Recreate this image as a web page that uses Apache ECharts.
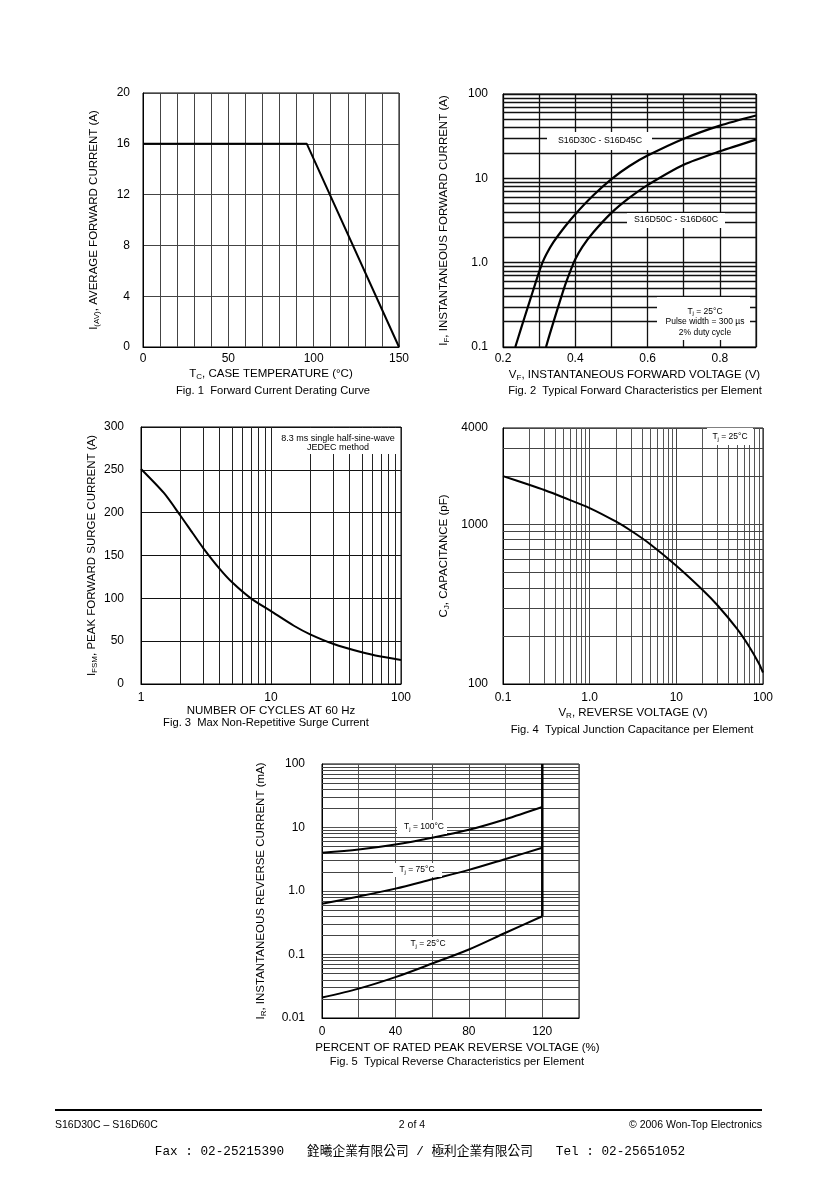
<!DOCTYPE html>
<html><head><meta charset="utf-8">
<script src="https://cdn.jsdelivr.net/npm/echarts@6/dist/echarts.min.js"></script>
<style>html,body{margin:0;padding:0;background:#fff}#c{width:840px;height:1189px}</style>
</head><body><div id="c"></div>
<script>
// ---------- DATA ----------
// Fig 1 Forward Current Derating Curve
const fig1Temp = [0, 96, 150];
const fig1Current = [16, 16, 0];
// Fig 2 Typical Forward Characteristics
const fig2VoltA = [0.234, 0.25, 0.27, 0.29, 0.30, 0.31, 0.32, 0.34, 0.37, 0.40, 0.45, 0.50, 0.55, 0.60, 0.70, 0.80, 0.90];
const fig2CurrA = [0.1, 0.166, 0.31, 0.575, 0.776, 1.02, 1.26, 1.76, 2.63, 3.76, 6.3, 9.8, 14, 18.6, 29.5, 42.2, 55.6];
const fig2VoltB = [0.319, 0.33, 0.35, 0.37, 0.39, 0.40, 0.42, 0.45, 0.50, 0.55, 0.60, 0.70, 0.80, 0.90];
const fig2CurrB = [0.1, 0.145, 0.275, 0.513, 0.871, 1.10, 1.55, 2.29, 3.89, 5.89, 8.32, 14.5, 20.9, 28.8];
// Fig 3 Max Non-Repetitive Surge Current
const fig3Cycles = [1, 1.5, 2, 2.5, 3, 4, 5, 7, 10, 15, 20, 30, 50, 70, 100];
const fig3Surge = [251, 223, 197, 176, 159, 135, 119, 100, 85, 68, 58, 47, 37, 32, 28];
// Fig 4 Typical Junction Capacitance
const fig4Volt = [0.1, 0.2, 0.3, 0.5, 1, 2, 3, 5, 10, 20, 30, 50, 70, 90, 100];
const fig4Cap = [2000, 1766, 1637, 1470, 1262, 1040, 910, 750, 550, 389, 310, 222, 170, 134, 118];
// Fig 5 Typical Reverse Characteristics
const fig5Percent = [0, 20, 40, 60, 80, 100, 120];
const fig5Tj100 = [4.0, 4.5, 5.4, 6.9, 9.2, 13.5, 21];
const fig5Tj75 = [0.63, 0.82, 1.09, 1.53, 2.15, 3.2, 4.8];
const fig5Tj25 = [0.021, 0.029, 0.044, 0.072, 0.12, 0.22, 0.40];
const fig5LimitX = [120, 120];
const fig5LimitY = [0.40, 100];

// Grid (minor) line values on log axes
const fig2YMinor = [0.2,0.3,0.4,0.5,0.6,0.7,0.8,0.9,2,3,4,5,6,7,8,9,20,30,40,50,60,70,80,90];
const fig3XMinor = [2,3,4,5,6,7,8,9,20,30,40,50,60,70,80,90];
const fig4XMinor = [0.2,0.3,0.4,0.5,0.6,0.7,0.8,0.9,2,3,4,5,6,7,8,9,20,30,40,50,60,70,80,90];
const fig4YMinor = [200,300,400,500,600,700,800,900,2000,3000];
const fig5YMinor = [0.02,0.03,0.04,0.05,0.06,0.07,0.08,0.09,0.2,0.3,0.4,0.5,0.6,0.7,0.8,0.9,2,3,4,5,6,7,8,9,20,30,40,50,60,70,80,90];

// ---------- HELPERS ----------
const FONT = '"Liberation Sans", Arial, sans-serif';
const pairs = (xs, ys) => xs.map((x, i) => [x, ys[i]]);
function logLabel(v) {
  const s = +(+v).toPrecision(4);
  if (Math.abs(s - 1) < 1e-9) return '1.0';
  return String(s);
}
function nameStyle(pad) {
  return {
    color: '#000', fontFamily: FONT, fontSize: 11.5, padding: pad || 0,
    rich: {
      n: {fontSize: 11.5, fontFamily: FONT, color: '#000'},
      s: {fontSize: 8, fontFamily: FONT, color: '#000', padding: [6, 0, 0, 0]}
    }
  };
}
function axis(o) {
  const base = {
    gridIndex: o.grid, type: o.type || 'value', min: o.min, max: o.max,
    name: o.name, nameLocation: 'middle', nameGap: o.nameGap, nameTextStyle: nameStyle(o.namePad),
    axisLine: {show: true, onZero: false, lineStyle: {color: '#000', width: 1}},
    axisTick: {show: false},
    splitLine: {show: true, lineStyle: {color: o.gridColor || '#333', width: o.gridWidth || 1, type: 'solid'}},
    axisLabel: {color: '#000', fontFamily: FONT, fontSize: 12, margin: o.margin, formatter: o.formatter,
      showMinLabel: true, showMaxLabel: true, hideOverlap: false}
  };
  if (o.interval !== undefined) base.interval = o.interval;
  if (o.type === 'log') base.logBase = 10;
  return base;
}
function gridLines(idx, key, values, color, width) {
  return {
    type: 'line', xAxisIndex: idx, yAxisIndex: idx, data: [], silent: true, z: 1,
    markLine: {
      silent: true, symbol: ['none', 'none'], animation: false,
      label: {show: false}, emphasis: {disabled: true},
      lineStyle: {color: color, width: width, type: 'solid'},
      data: values.map(v => ({[key]: v}))
    }
  };
}
function curve(idx, data, width, smooth) {
  return {
    type: 'line', xAxisIndex: idx, yAxisIndex: idx, data: data, z: 5,
    showSymbol: false, symbol: 'none', smooth: smooth,
    lineStyle: {color: '#000', width: width || 2}, silent: true
  };
}

// ---------- OPTION ----------
const gridBox = (l, t, w, h) => ({left: l, top: t, width: w, height: h, show: true,
  borderColor: '#000', borderWidth: 1, backgroundColor: '#fff', containLabel: false, outerBoundsMode: 'none'});

const option = {
  animation: false,
  backgroundColor: '#fff',
  grid: [
    gridBox(143, 93, 256, 254),
    gridBox(503, 94, 253, 253),
    gridBox(141, 427, 260, 257),
    gridBox(503, 428, 260, 256),
    gridBox(322, 764, 257, 254)
  ],
  xAxis: [
    axis({grid: 0, min: 0, max: 150, interval: 10, margin: 6, nameGap: 20, gridColor: '#444',
      name: '{n|T}{s|C}{n|, CASE TEMPERATURE (°C)}',
      formatter: v => (v % 50 === 0 ? String(v) : '')}),
    axis({grid: 1, min: 0.2, max: 0.9, interval: 0.1, margin: 6, nameGap: 21, gridColor: '#111', gridWidth: 1.3,
      name: '{n|V}{s|F}{n|, INSTANTANEOUS FORWARD VOLTAGE (V)}', namePad: [0, 0, 0, 10],
      formatter: v => (Math.round(v * 10) % 2 === 0 && v < 0.85 ? (+v).toFixed(1) : '')}),
    axis({grid: 2, type: 'log', min: 1, max: 100, margin: 8, nameGap: 20, gridColor: '#222',
      name: 'NUMBER OF CYCLES AT 60 Hz', formatter: v => String(Math.round(v))}),
    axis({grid: 3, type: 'log', min: 0.1, max: 100, margin: 8, nameGap: 22, gridColor: '#444',
      name: '{n|V}{s|R}{n|, REVERSE VOLTAGE (V)}', formatter: logLabel}),
    axis({grid: 4, min: 0, max: 140, interval: 20, margin: 8, nameGap: 24, gridColor: '#555',
      name: 'PERCENT OF RATED PEAK REVERSE VOLTAGE (%)', namePad: [0, 0, 0, 14],
      formatter: v => (v % 40 === 0 && v < 140 ? String(v) : '')})
  ],
  yAxis: [
    axis({grid: 0, min: 0, max: 20, interval: 4, margin: 13, nameGap: 42, gridColor: '#444',
      name: '{n|I}{s|(AV)}{n|, AVERAGE FORWARD CURRENT (A)}'}),
    axis({grid: 1, type: 'log', min: 0.1, max: 100, margin: 15, nameGap: 52, gridColor: '#111', gridWidth: 1.3,
      name: '{n|I}{s|F}{n|, INSTANTANEOUS FORWARD CURRENT (A)}', formatter: logLabel}),
    axis({grid: 2, min: 0, max: 300, interval: 50, margin: 17, nameGap: 42, gridColor: '#111',
      name: '{n|I}{s|FSM}{n|, PEAK FORWARD SURGE CURRENT (A)}'}),
    axis({grid: 3, type: 'log', min: 100, max: 4000, margin: 15, nameGap: 52, gridColor: '#444',
      name: '{n|C}{s|J}{n|, CAPACITANCE (pF)}', formatter: v => String(Math.round(v))}),
    axis({grid: 4, type: 'log', min: 0.01, max: 100, margin: 17, nameGap: 54, gridColor: '#555',
      name: '{n|I}{s|R}{n|, INSTANTANEOUS REVERSE CURRENT (mA)}', formatter: logLabel})
  ],
  series: [
    gridLines(1, 'yAxis', fig2YMinor, '#111', 1.3),
    gridLines(2, 'xAxis', fig3XMinor, '#222', 1),
    gridLines(3, 'xAxis', fig4XMinor, '#555', 1),
    gridLines(3, 'yAxis', fig4YMinor, '#444', 1),
    gridLines(4, 'yAxis', fig5YMinor, '#444', 1),
    curve(0, pairs(fig1Temp, fig1Current), 2, false),
    curve(1, pairs(fig2VoltA, fig2CurrA), 2.2, 0.25),
    curve(1, pairs(fig2VoltB, fig2CurrB), 2.2, 0.25),
    curve(2, pairs(fig3Cycles, fig3Surge), 2, 0.25),
    curve(3, pairs(fig4Volt, fig4Cap), 2, 0.25),
    curve(4, pairs(fig5Percent, fig5Tj100), 2, 0.3),
    curve(4, pairs(fig5Percent, fig5Tj75), 2, 0.3),
    curve(4, pairs(fig5Percent, fig5Tj25), 2, 0.3),
    curve(4, pairs(fig5LimitX, fig5LimitY), 2.5, false)
  ],
  graphic: []
};

// ---------- TEXT / ANNOTATIONS ----------
const G = option.graphic;
function box(x, y, w, h) {
  G.push({type: 'rect', z: 90, silent: true, shape: {x: x, y: y, width: w, height: h}, style: {fill: '#fff'}});
}
function text(x, y, str, size, opt) {
  G.push({type: 'text', z: 95, silent: true, x: x, y: y,
    style: Object.assign({text: str, fontFamily: FONT, fontSize: size, fill: '#000',
      align: 'center', verticalAlign: 'middle',
      rich: {s: {fontSize: size * 0.7, fontFamily: FONT, fill: '#000', padding: [4, 0, 0, 0]}}}, opt || {})});
}
// figure annotations
box(547, 132, 105, 18); text(600, 141, 'S16D30C - S16D45C', 8.8);
box(627, 213, 98, 15); text(676, 220, 'S16D50C - S16D60C', 8.8);
box(657, 297, 93, 43); text(705, 322, 'T{s|j} = 25°C\nPulse width = 300 µs\n2% duty cycle', 8.5, {lineHeight: 10.5});
box(278, 428, 121, 26); text(338, 443, '8.3 ms single half-sine-wave\nJEDEC method', 9, {lineHeight: 9.5});
box(707, 428, 46, 17); text(730, 437, 'T{s|j} = 25°C', 8.5);
box(397, 820, 50, 14); text(424, 827, 'T{s|j} = 100°C', 8.5);
box(393, 863, 49, 14); text(417, 870, 'T{s|j} = 75°C', 8.5);
box(405, 937, 47, 14); text(428, 944, 'T{s|j} = 25°C', 8.5);
// captions
text(273, 391, 'Fig. 1  Forward Current Derating Curve', 11.2);
text(635, 391, 'Fig. 2  Typical Forward Characteristics per Element', 11.2);
text(266, 723, 'Fig. 3  Max Non-Repetitive Surge Current', 11.2);
text(632, 730, 'Fig. 4  Typical Junction Capacitance per Element', 11.2);
text(457, 1062, 'Fig. 5  Typical Reverse Characteristics per Element', 11.2);
// footer
G.push({type: 'line', z: 95, silent: true, shape: {x1: 55, y1: 1110, x2: 762, y2: 1110}, style: {stroke: '#000', lineWidth: 2}});
text(55, 1125, 'S16D30C – S16D60C', 10.5, {align: 'left'});
text(412, 1125, '2 of 4', 10.5);
text(762, 1125, '© 2006 Won-Top Electronics', 10.5, {align: 'right'});
text(420, 1152, 'Fax : 02-25215390   銓曦企業有限公司 / 極利企業有限公司   Tel : 02-25651052', 12.7,
  {fontFamily: '"Liberation Mono", "Noto Sans CJK TC", monospace'});

const chart = echarts.init(document.getElementById('c'), null, {renderer: 'canvas'});
chart.setOption(option);
</script>
</body></html>
